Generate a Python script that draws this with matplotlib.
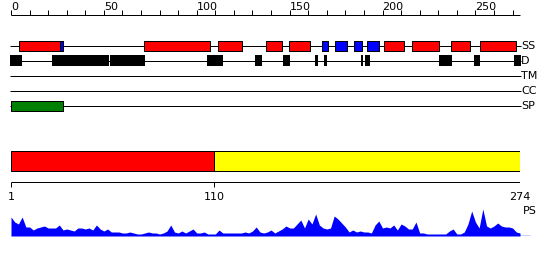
import matplotlib
matplotlib.use("Agg")
import matplotlib.pyplot as plt

plt.rcParams['font.family'] = ['DejaVu Sans']

# ---------------- data ----------------
seq_len = 274
ruler_ticks = list(range(0, 271, 10))
ruler_labels = [0, 50, 100, 150, 200, 250]

ss_helix = [(4.5, 26.5), (71.8, 107.0), (111.6, 124.6), (137.5, 145.8), (149.9, 160.8),
            (201.0, 211.8), (216.1, 230.6), (236.9, 247.2), (252.2, 272.1)]
ss_strand = [(26.5, 28.1), (167.6, 170.9), (174.6, 180.8), (184.9, 188.8), (191.9, 198.0)]
disorder = [(-0.5, 5.7), (22.3, 52.8), (53.3, 72.2), (105.7, 114.0), (131.4, 135.0),
            (146.6, 150.2), (163.7, 165.2), (168.5, 170.2), (188.5, 189.7), (190.6, 193.2),
            (230.6, 237.3), (249.0, 252.6), (270.9, 274.5)]
signal_peptide = [(0, 28)]
track_names = ["SS", "D", "TM", "CC", "SP"]

domain_bounds = [(1, 110), (110, 274)]
domain_colors = ["#ff0000", "#ffff00"]
domain_ticks = [1, 110, 274]

ps_pos = [0, 2, 4, 6, 8, 10, 12, 14, 16, 18, 20, 22, 24, 26, 28, 30, 32, 34, 36, 38,
          40, 42, 44, 46, 48, 50, 52, 54, 56, 58, 60, 62, 64, 66, 68, 70, 72, 74, 76, 78,
          80, 82, 84, 86, 88, 90, 92, 94, 96, 98, 100, 102, 104, 106, 108, 110, 112, 114,
          116, 118, 120, 122, 124, 126, 128, 130, 132, 134, 136, 138, 140, 142, 144, 146,
          148, 150, 152, 154, 156, 158, 160, 162, 164, 166, 168, 170, 172, 174, 176, 178,
          180, 182, 184, 186, 188, 190, 192, 194, 196, 198, 200, 202, 204, 206, 208, 210,
          212, 214, 216, 218, 220, 222, 224, 226, 228, 230, 232, 234, 236, 238, 240, 242,
          244, 246, 248, 250, 252, 254, 256, 258, 260, 262, 264, 266, 268, 270, 272, 274]
ps_val = [19, 14, 12, 19, 9, 9, 6, 8, 9, 10, 8, 8, 8, 11, 6, 7, 6, 5, 8, 8,
          7, 8, 6, 11, 7, 5, 7, 4, 4, 4, 3, 3, 4, 3, 2, 2, 3, 4, 3, 3,
          2, 3, 5, 11, 4, 3, 5, 3, 5, 7, 3, 3, 4, 2, 2, 2, 6, 3,
          3, 3, 3, 3, 3, 4, 3, 5, 9, 4, 3, 4, 6, 3, 5, 7,
          10, 8, 8, 12, 16, 8, 17, 12, 22, 11, 8, 7, 8, 20, 17, 13,
          9, 4, 6, 4, 5, 4, 4, 3, 11, 15, 8, 9, 8, 11, 6, 12,
          10, 7, 7, 14, 3, 3, 2, 2, 2, 2, 2, 2, 5, 7, 2, 2,
          4, 12, 25, 14, 8, 27, 10, 8, 10, 13, 10, 9, 9, 8, 4, 3]

# ---------------- layout ----------------
W, H = 550, 260
x0_px, x1_px = 11, 520
s = (x1_px - x0_px) / seq_len
xl = (-x0_px / s, (W - x0_px) / s)
LW = 0.72

fig = plt.figure(figsize=(W / 100, H / 100), dpi=100)
ax = fig.add_axes([0, 0, 1, 1])
ax.set_xlim(*xl)
ax.set_ylim(H, 0)
ax.axis("off")

# top ruler
ax.hlines(15, 0, seq_len, color="black", lw=LW)
ax.vlines(ruler_ticks, 10, 15, color="black", lw=LW)
for v in ruler_labels:
    ax.text(v, 9.5, str(v), ha="left", va="baseline", fontsize=8)

track_y = [45.5, 60.5, 75.5, 90.5, 105.5]
line_end = seq_len + 0.5
for name, y in zip(track_names, track_y):
    ax.hlines(y, -0.5, line_end, color="black", lw=LW, zorder=1)
    ax.text(line_end + 0.2, y + 0.5, name, ha="left", va="center", fontsize=8)

ax.broken_barh([(a, b - a) for a, b in ss_helix], (40.5, 10), facecolors="#ff0000",
               edgecolors="black", lw=LW, zorder=2)
ax.broken_barh([(a, b - a) for a, b in ss_strand], (40.5, 10), facecolors="#0000ff",
               edgecolors="black", lw=LW, zorder=2)
ax.broken_barh([(a, b - a) for a, b in disorder], (55, 11), facecolors="black",
               edgecolors="none", lw=0, zorder=2)
ax.broken_barh([(a, b - a) for a, b in signal_peptide], (100.5, 10), facecolors="#008000",
               edgecolors="black", lw=LW, zorder=2)

# domain bar + bottom ruler (own axes with 1..274 scale)
axd = fig.add_axes([x0_px / W, 0, (x1_px - x0_px) / W, 1])
axd.set_xlim(1, seq_len)
axd.set_ylim(H, 0)
axd.axis("off")
axd.broken_barh([(a, b - a) for a, b in domain_bounds], (150.5, 20),
                facecolors=domain_colors, edgecolors="black", lw=LW)
axd.hlines(181.5, 1, seq_len, color="black", lw=LW)
axd.vlines(domain_ticks, 181.5, 186.5, color="black", lw=LW)
for v in domain_ticks:
    axd.text(v, 200, str(v), ha="center", va="baseline", fontsize=8)

# PS profile
ps_top, ps_bot = 206, 236
axp = fig.add_axes([0, (H - ps_bot) / H, 1, (ps_bot - ps_top) / H])
axp.set_xlim(*xl)
axp.set_ylim(0, 30)
axp.axis("off")
axp.fill_between(ps_pos, ps_val, 0, color="#0000ff", lw=0)
axp.hlines(0, 0, (530 - x0_px) / s, color="#0000ff", lw=1.0)
ax.text(line_end + 1, 211, "PS", ha="left", va="center", fontsize=8)

fig.savefig("out.png", dpi=100)
